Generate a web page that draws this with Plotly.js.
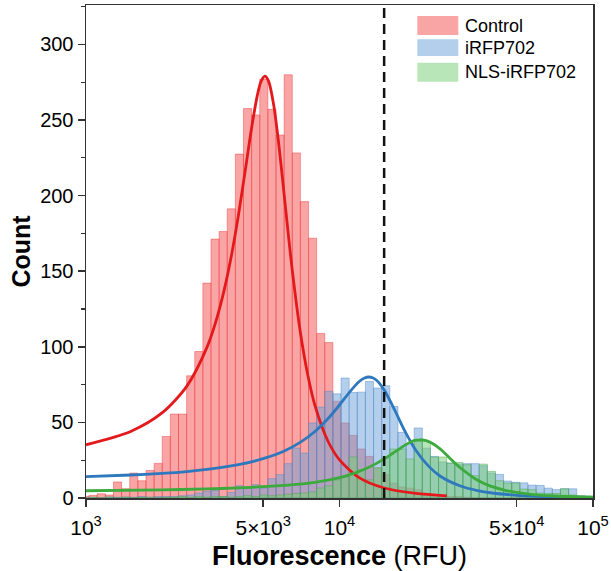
<!DOCTYPE html>
<html><head><meta charset="utf-8">
<script src="https://cdn.plot.ly/plotly-3.0.1.min.js"></script>
<style>html,body{margin:0;padding:0;background:#fff}#chart{width:611px;height:571px}</style>
</head><body><div id="chart"></div>
<script>
// ---- Histogram binning (log10 RFU): first bin starts one bin below binFirstEdgeLog
const binFirstEdgeLog = 3.0122;
const binWidthLog = 0.03206;

// ---- Bar counts per bin (63 bins, left to right)
const controlCounts = [1.1, 1.7, 2.8, 2, 10.6, 6.1, 16.5, 11.4, 18.2, 22.9, 40.7, 55.5, 55.5, 80.8, 96.9, 142.1, 171.2, 176.2, 191.2, 227.4, 257.5, 253.3, 277, 257, 240, 279.8, 228.2, 196, 171.8, 108.8, 102.8, 64, 49.6, 41.4, 32.4, 27.5, 19.8, 15.4, 9.9, 7.3, 6.6, 5.5, 3, 2, 2, 1, 1, 0.5, 0, 0, 0, 0, 0, 0, 0, 0, 0, 0, 0, 0, 0, 0, 0];
const irfpCounts = [0, 0.3, 0, 0.7, 0.5, 0.7, 0.5, 1, 0.5, 1, 1, 1, 1.5, 2, 3.3, 4.4, 5, 1, 3.7, 8.1, 6.6, 8.8, 6.6, 12.8, 15.4, 22.7, 33, 29.7, 49.6, 60.1, 70.5, 68.9, 79.3, 69.8, 70, 77, 72.7, 74.2, 60.5, 43.4, 35.9, 46.3, 33, 27.5, 23.8, 23.1, 22.5, 22.7, 22.7, 21.4, 16.5, 15.6, 11.2, 10.4, 10, 8.5, 8.3, 6.5, 5.5, 6.1, 6.1, 1.5, 1.2];
const nlsCounts = [0, 0.5, 0, 0.5, 0, 0.5, 0, 0.5, 0.5, 0, 0.5, 0.5, 1, 0.5, 1, 0.5, 1, 1, 0.5, 1, 1.5, 1, 2, 1.5, 2, 2.5, 3, 3.3, 4, 6.6, 8, 12, 14, 27.1, 18.7, 12, 20, 26.4, 32.4, 32.4, 25.8, 37.4, 37.4, 27.1, 27.1, 23.1, 23.5, 22, 14.7, 22.4, 17.6, 11.4, 9.9, 9.9, 5.9, 5.5, 3.3, 3, 3, 6.1, 2, 1, 1];

// ---- Fitted curves (RFU, count)
const controlFitX = [1000, 1500, 2000, 2500, 3000, 3250, 3500, 3750, 4000, 4250, 4500, 4750, 4900, 5080, 5250, 5500, 5750, 6000, 6250, 6500, 7000, 7500, 8000, 9000, 10000, 12000, 15000, 20000, 26500];
const controlFitY = [35.2, 44.0, 56.4, 74.0, 99.6, 116.5, 136.8, 160.7, 187.8, 216.8, 244.7, 266.9, 275.3, 279, 275.7, 259.9, 235.1, 206.3, 177.7, 151.7, 110.1, 81.2, 61.3, 37.7, 25.2, 13.3, 6.6, 3.0, 1.45];
const irfpFitX = [1000, 1500, 2000, 2500, 3000, 4000, 5000, 6000, 7000, 8000, 9000, 10000, 11000, 12000, 12500, 13070, 13500, 14000, 15000, 16500, 18000, 20000, 22500, 25000, 30000, 35000, 40000, 50000, 60000, 70000, 80000];
const irfpFitY = [14.2, 15.2, 16.3, 17.5, 18.9, 22.1, 26.0, 30.8, 36.8, 44.0, 52.4, 61.5, 70.4, 77.2, 79.2, 80, 79.5, 77.9, 71.5, 58.2, 45.1, 31.6, 20.9, 14.4, 7.9, 4.9, 3.3, 1.8, 1.1, 0.77, 0.57];
const nlsFitX = [1000, 2000, 3000, 4000, 5000, 6000, 7000, 8000, 9000, 10000, 11000, 12000, 13000, 14000, 15000, 16000, 17000, 18000, 19000, 20000, 20800, 21600, 23000, 25000, 27000, 29000, 31700, 34000, 37000, 40000, 45000, 50000, 58000, 68000, 80000, 100000];
const nlsFitY = [4.8, 5.4, 6.0, 6.7, 7.5, 8.3, 9.2, 10.4, 11.8, 13.5, 15.5, 17.7, 20.2, 22.9, 25.9, 28.9, 31.8, 34.6, 36.8, 38.2, 38.5, 38.3, 36.5, 32.3, 27, 22, 16.8, 13.1, 9.8, 7.5, 5.1, 3.7, 2.3, 1.5, 1.0, 0.6];

// ---- Axis ticks, legend names, gate
const xTickValues = [1000, 5000, 10000, 50000, 100000];
const xTickLabels = ['10<sup>3</sup>', '5×10<sup>3</sup>', '10<sup>4</sup>', '5×10<sup>4</sup>', '10<sup>5</sup>'];
const seriesNames = ['Control', 'iRFP702', 'NLS-iRFP702'];
const gateRFU = 15000;

// ---- Styles
const barFill = ['rgba(245,75,75,0.5)', 'rgba(105,160,215,0.5)', 'rgba(115,205,115,0.5)'];
const barEdge = ['rgba(238,60,60,0.45)', 'rgba(80,135,200,0.45)', 'rgba(70,165,70,0.45)'];
const curveColor = ['#E3191C', '#2E78BE', '#3DAA3D'];

const binCenters = controlCounts.map((_, i) => binFirstEdgeLog + (i - 1 + 0.5) * binWidthLog);
const counts = [controlCounts, irfpCounts, nlsCounts];
const fits = [[controlFitX, controlFitY], [irfpFitX, irfpFitY], [nlsFitX, nlsFitY]];

const traces = [];
counts.forEach((c, k) => {
  traces.push({type: 'bar', x: binCenters, y: c, width: binWidthLog, name: seriesNames[k],
    marker: {color: barFill[k], line: {color: barEdge[k], width: 1}}, hoverinfo: 'skip'});
});
fits.forEach((f, k) => {
  traces.push({type: 'scatter', mode: 'lines', x: f[0].map(Math.log10), y: f[1], showlegend: false,
    line: {color: curveColor[k], width: 2.8, shape: 'spline', smoothing: 0.8}, hoverinfo: 'skip'});
});

// manual legend (large swatches as in reference)
const legX0 = 0.6535, legX1 = 0.7343, legTextX = 0.7436;
const legRows = [[0.9777, 0.9391], [0.9304, 0.8966], [0.8830, 0.8444]];
const shapes = legRows.map((r, k) => ({type: 'rect', xref: 'paper', yref: 'paper', x0: legX0, x1: legX1, y0: r[1], y1: r[0],
  fillcolor: barFill[k], line: {width: 0}, layer: 'above'}));
shapes.push({type: 'line', xref: 'x', yref: 'paper', x0: Math.log10(gateRFU), x1: Math.log10(gateRFU), y0: 0, y1: 1,
  line: {color: '#111', width: 2.5, dash: '10px,6px'}, layer: 'above'});
const annotations = legRows.map((r, k) => ({xref: 'paper', yref: 'paper', x: legTextX, y: (r[0] + r[1]) / 2,
  xanchor: 'left', yanchor: 'middle', text: seriesNames[k], showarrow: false, font: {size: 18, color: '#000'}}));

const axisCommon = {showline: true, linecolor: '#333', linewidth: 1.5, mirror: true, showgrid: false, zeroline: false,
  ticks: 'outside', ticklen: 7, tickwidth: 1.5, tickcolor: '#333', tickfont: {size: 20, color: '#000'}};

const layout = {
  width: 611, height: 571,
  margin: {l: 86, r: 18, t: 5, b: 73},
  paper_bgcolor: '#fff', plot_bgcolor: '#fff',
  barmode: 'overlay', bargap: 0, showlegend: false,
  font: {family: 'Liberation Sans, Arial, sans-serif', color: '#000'},
  xaxis: Object.assign({}, axisCommon, {range: [3, 5], tickmode: 'array', tickvals: xTickValues.map(Math.log10), ticktext: xTickLabels,
    tickfont: {size: 21, color: '#000'}, ticklabelstandoff: 3,
    title: {text: '<b>Fluorescence</b> (RFU)', font: {size: 27, color: '#000'}, standoff: 8}}),
  yaxis: Object.assign({}, axisCommon, {range: [0, 326], tick0: 0, dtick: 50,
    minor: {ticks: 'outside', dtick: 25, ticklen: 4, tickcolor: '#333', tickwidth: 1.2},
    title: {text: '<b>Count</b>', font: {size: 25, color: '#000'}, standoff: 2}}),
  shapes: shapes, annotations: annotations
};
Plotly.newPlot('chart', traces, layout, {displayModeBar: false, staticPlot: true});
</script></body></html>
